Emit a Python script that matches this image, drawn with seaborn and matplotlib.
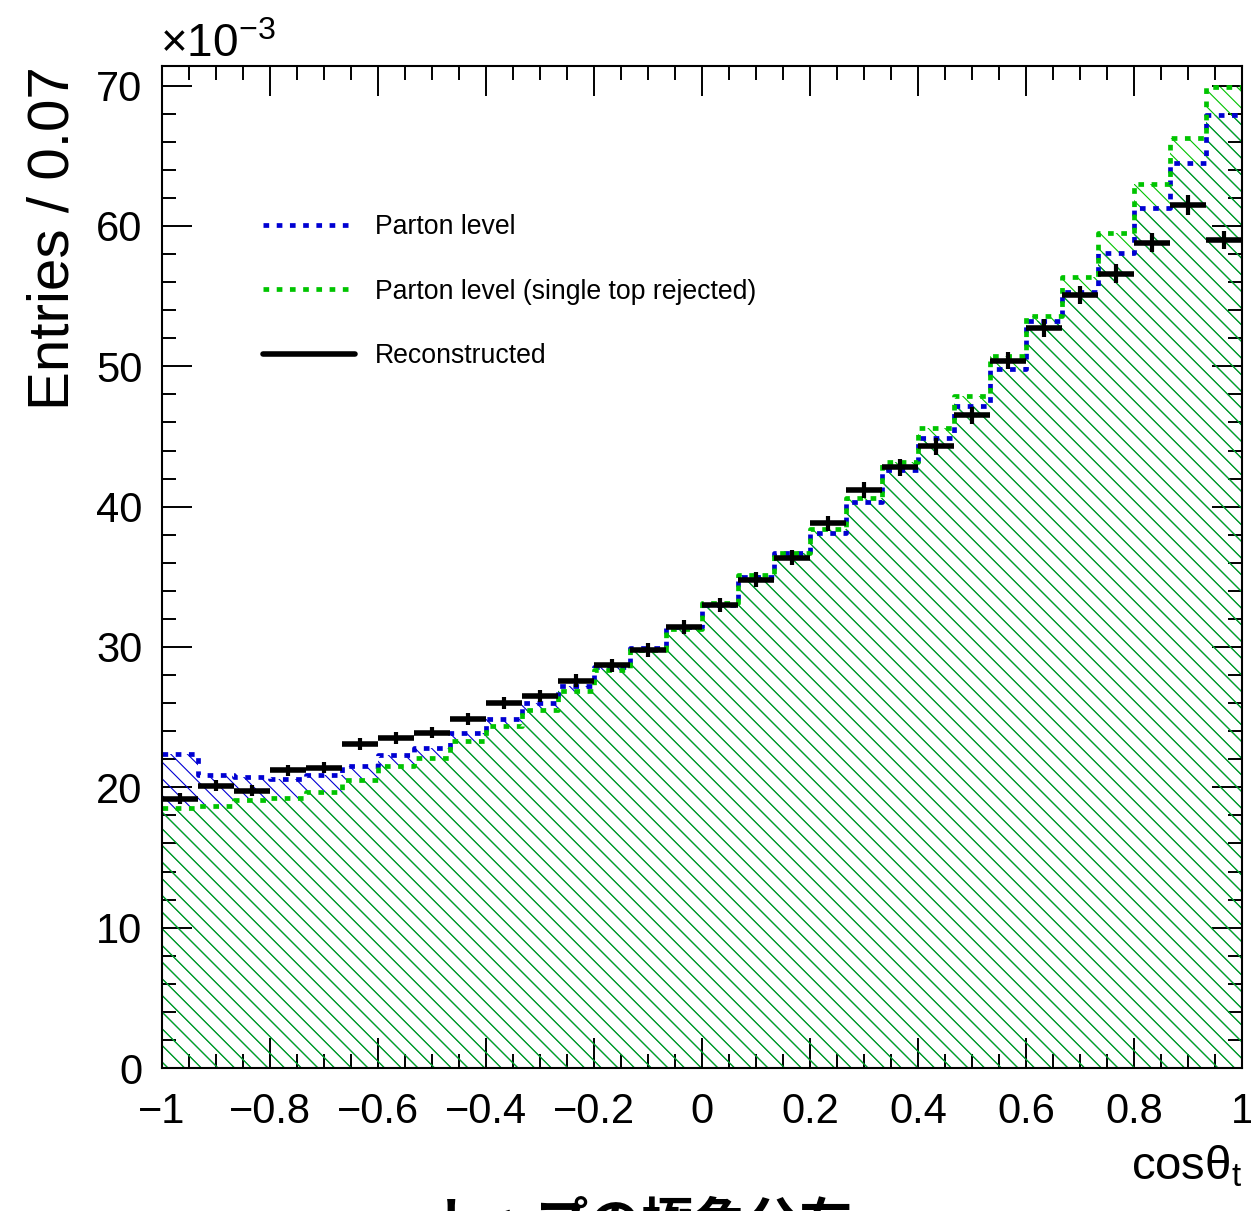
import numpy as np
import pandas as pd
import seaborn as sns
import matplotlib.pyplot as plt
from matplotlib.lines import Line2D
from matplotlib.ticker import MultipleLocator

# cos(theta_t) binning: 30 bins between -1 and 1
n_bins = 30
x_range = (-1, 1)
edges = np.linspace(x_range[0], x_range[1], n_bins + 1)
centers = 0.5 * (edges[:-1] + edges[1:])
half_width = 0.5 * (edges[1] - edges[0])

# Entries (x 1e-3)
parton = [22.4, 20.9, 20.75, 20.6, 20.9, 21.5, 22.3, 22.8, 23.9, 24.9,
          26.0, 27.2, 28.6, 29.9, 31.4, 33.0, 35.0, 36.7, 38.1, 40.3,
          42.6, 44.9, 47.2, 49.8, 53.2, 55.3, 58.1, 61.3, 64.5, 67.9]
rejected = [18.5, 18.7, 19.1, 19.25, 19.7, 20.5, 21.5, 22.1, 23.3, 24.4,
            25.5, 26.85, 28.35, 29.8, 31.3, 33.1, 35.1, 36.7, 38.4, 40.6,
            43.2, 45.6, 47.9, 50.7, 53.6, 56.4, 59.5, 63.0, 66.3, 69.9]
reco = [19.2, 20.1, 19.75, 21.2, 21.4, 23.1, 23.5, 23.9, 24.9, 26.0,
        26.5, 27.6, 28.7, 29.8, 31.4, 33.0, 34.8, 36.35, 38.8, 41.2,
        42.8, 44.3, 46.5, 50.4, 52.7, 55.1, 56.6, 58.8, 61.5, 59.0]
reco_err = [0.38, 0.39, 0.39, 0.40, 0.40, 0.42, 0.42, 0.42, 0.43, 0.44,
            0.45, 0.46, 0.47, 0.48, 0.49, 0.51, 0.52, 0.53, 0.55, 0.56,
            0.58, 0.59, 0.60, 0.62, 0.64, 0.65, 0.66, 0.67, 0.69, 0.67]

x_ticks = [-1, -0.8, -0.6, -0.4, -0.2, 0, 0.2, 0.4, 0.6, 0.8, 1]
x_tick_labels = ['\u22121', '\u22120.8', '\u22120.6', '\u22120.4', '\u22120.2',
                 '0', '0.2', '0.4', '0.6', '0.8', '1']
y_ticks = [0, 10, 20, 30, 40, 50, 60, 70]
legend_labels = ['Parton level', 'Parton level (single top rejected)', 'Reconstructed']

df = pd.DataFrame({'cos': centers, 'parton': parton, 'rejected': rejected,
                   'reco': reco, 'err': reco_err})

blue = '#0000d2'
green = '#00c400'

sns.set_style('ticks')
plt.rcParams['font.family'] = ['Liberation Sans', 'DejaVu Sans']
plt.rcParams['mathtext.fontset'] = 'custom'
plt.rcParams['mathtext.rm'] = 'Liberation Sans'
plt.rcParams['mathtext.it'] = 'Liberation Sans'
plt.rcParams['mathtext.default'] = 'regular'
plt.rcParams['hatch.linewidth'] = 0.8
for key in ['text.color', 'axes.labelcolor', 'xtick.color', 'ytick.color']:
    plt.rcParams[key] = 'black'

fig = plt.figure(figsize=(12.51, 12.11), dpi=100)
ax = fig.add_axes([162 / 1251, 1 - 1068 / 1211, 1080 / 1251, 1002 / 1211])

hist_kw = dict(data=df, x='cos', bins=n_bins, binrange=x_range,
               element='step', ax=ax)

# hatched fills
sns.histplot(weights='parton', fill=True, color=blue, facecolor='none',
             edgecolor=blue, linewidth=0, hatch='\\\\', **hist_kw)
sns.histplot(weights='rejected', fill=True, color=green, facecolor='none',
             edgecolor=green, linewidth=0, hatch='\\\\', **hist_kw)

# dotted outlines
dots = (0, (1.2, 1.6))
sns.histplot(weights='parton', fill=False, color=blue, linewidth=3.4,
             linestyle=dots, **hist_kw)
sns.histplot(weights='rejected', fill=False, color=green, linewidth=3.4,
             linestyle=dots, **hist_kw)

# reconstructed points
ax.errorbar(df['cos'], df['reco'], xerr=half_width, fmt='none', ecolor='black',
            elinewidth=4, capsize=0, zorder=5)
ax.errorbar(df['cos'], df['reco'], yerr=df['err'], fmt='none', ecolor='black',
            elinewidth=3, capsize=0, zorder=5)

ax.set_xlim(-1, 1)
ax.set_ylim(0, 71.4)
ax.set_xticks(x_ticks, x_tick_labels)
ax.set_yticks(y_ticks)
ax.xaxis.set_minor_locator(MultipleLocator(0.05))
ax.yaxis.set_minor_locator(MultipleLocator(2))
ax.tick_params(which='both', direction='in', top=True, right=True, width=1.4,
               color='black', labelsize=30)
ax.tick_params(which='major', length=21.5)
ax.tick_params(which='minor', length=10)
ax.tick_params(axis='x', pad=17)
ax.tick_params(axis='y', pad=14)
for s in ax.spines.values():
    s.set_linewidth(1.5)
    s.set_color('black')

ax.set_ylabel('Entries / 0.07', fontsize=42, loc='top')
ax.yaxis.set_label_coords(-0.075, 1.0)
ax.set_xlabel(r'cos$\theta_{t}$', fontsize=34, loc='right', labelpad=9)

fig.text(160 / 1251, 1 - 57 / 1211, r'$\times$10$^{-3}$', fontsize=33,
         ha='left', va='baseline')

handles = [Line2D([], [], color=blue, lw=3.4, linestyle=dots),
           Line2D([], [], color=green, lw=3.4, linestyle=dots),
           Line2D([], [], color='black', lw=4)]
ax.legend(handles, legend_labels, loc='upper left',
          bbox_to_anchor=((263 - 162) / 1080, (1068 - 214) / 1002),
          frameon=False, fontsize=19.2, handlelength=3.45, handletextpad=0.75,
          labelspacing=1.45, borderpad=0, borderaxespad=0)

fig.text(642 / 1251, 1 - 1199 / 1211, 'トップの極角分布', fontsize=38,
         family='Noto Sans CJK JP', fontweight='bold', ha='center', va='top')

fig.savefig('out.png', dpi=100)
